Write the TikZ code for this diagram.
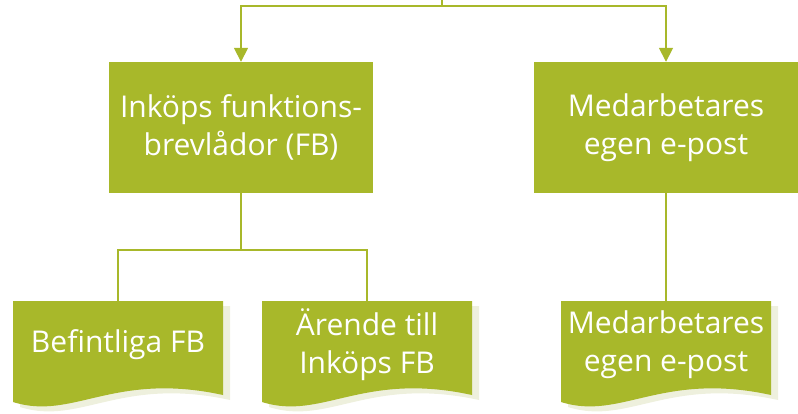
\documentclass[tikz,border=0pt]{standalone}
\usepackage{fontspec}
\setmainfont{Open Sans}
\usetikzlibrary{arrows.meta,backgrounds}
\definecolor{leaf}{RGB}{168,184,42}
\definecolor{leafshade}{RGB}{238,240,221}
\tikzset{
  box/.style = {rectangle, fill=leaf, text=white, align=center,
                minimum width=264pt, minimum height=131pt,
                inner sep=0pt, font=\fontsize{30}{38}\selectfont},
  docbox/.style = {rectangle, text=white, align=center,
                minimum width=210pt, minimum height=88pt,
                inner sep=0pt, font=\fontsize{30}{38}\selectfont},
  conn/.style = {draw=leaf, line width=1.7pt},
  arr/.style = {conn, -{Triangle[width=14pt,length=14pt]}}
}
% wavy document shape: left x, top y, fill colour
\newcommand{\docshape}[3]{%
  \fill[#3] (#1,#2) -- ++(210,0) -- ++(0,-94)
    .. controls +(-110,24) and +(60,-19) .. ++(-210,-7) -- cycle;}

\begin{document}
\begin{tikzpicture}[x=1pt,y=1pt]
	\useasboundingbox (0,0) rectangle (798,-414);
	\def \dtop{-301}

	% Boxes
	\node[box] (inkop)  at (241,-127.5) {Inköps funktions-\\brevlådor (FB)};
	\node[box] (medarb) at (666,-127.5) {Medarbetares\\egen e-post};

	% Documents
	\node[docbox] (befintliga) at (118,-345) {Befintliga FB};
	\node[docbox] (arende)     at (367,-345) {Ärende till\\Inköps FB};
	\node[docbox] (medarbdoc)  at (666,-345) {Medarbetares\\egen e-post};

	\begin{scope}[on background layer]
		\docshape{20}{\dtop-5}{leafshade}
		\docshape{269}{\dtop-5}{leafshade}
		\docshape{568}{\dtop-5}{leafshade}
		\docshape{13}{\dtop}{leaf}
		\docshape{262}{\dtop}{leaf}
		\docshape{561}{\dtop}{leaf}
	\end{scope}

	% Connectors
	\coordinate (top)  at (442,0);
	\coordinate (bar)  at (442,-6);
	\coordinate (fork) at (241,-250);
	\draw[conn] (top) -- (bar);
	\draw[arr]  (bar) -| (inkop.north);
	\draw[arr]  (bar) -| (medarb.north);
	\draw[conn] (inkop.south) -- (fork);
	\draw[conn] (fork) -| (befintliga.north);
	\draw[conn] (fork) -| (arende.north);
	\draw[conn] (medarb.south) -- (medarbdoc.north);
\end{tikzpicture}
\end{document}
